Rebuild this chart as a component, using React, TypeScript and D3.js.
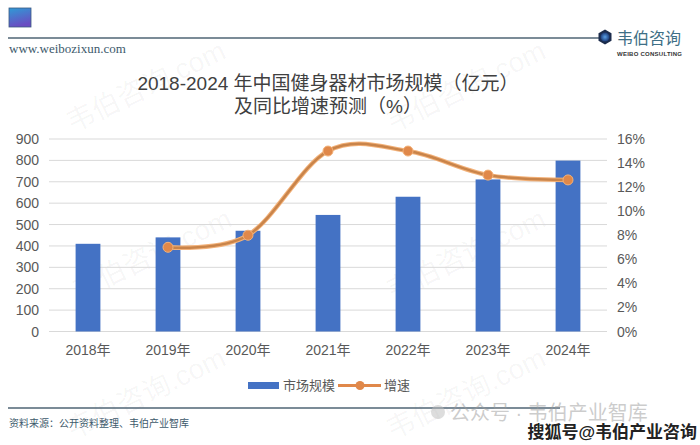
import * as d3 from "d3";
import {useEffect, useRef} from "react";

// 市场规模（亿元）与同比增速
const years = ["2018年", "2019年", "2020年", "2021年", "2022年", "2023年", "2024年"];
const marketSize = [410, 440, 471, 545, 630, 711, 799];
const growthYears = ["2019年", "2020年", "2021年", "2022年", "2023年", "2024年"];
const growthRate = [0.07, 0.08, 0.15, 0.15, 0.13, 0.126];
const leftTicks = [0, 100, 200, 300, 400, 500, 600, 700, 800, 900];
const rightTicks = [0, 0.02, 0.04, 0.06, 0.08, 0.1, 0.12, 0.14, 0.16];

const sans = "'Liberation Sans', 'Noto Sans CJK SC', sans-serif";
const serif = "'Liberation Serif', 'Noto Sans CJK SC', serif";

export default function App() {
    const svgRef = useRef(null);
    const width = 700;
    const height = 445;

    useEffect(() => {
        if (!svgRef.current) return;
        d3.select(svgRef.current).selectAll("*").remove();
        const svg = d3.select(svgRef.current);

        const x = d3.scaleBand().domain(years).range([48, 608]);
        const yLeft = d3.scaleLinear().domain([0, 900]).range([331.5, 139]);
        const yRight = d3.scaleLinear().domain([0, 0.16]).range([331.5, 139]);
        const barW = x.bandwidth() * 0.31;
        const cx = (d: string) => (x(d) as number) + x.bandwidth() / 2;

        const defs = svg.append("defs");
        const grad = defs.append("linearGradient").attr("id", "sq").attr("x1", 0).attr("y1", 0).attr("x2", 0.3).attr("y2", 1);
        grad.append("stop").attr("offset", "0%").attr("stop-color", "#2f9bd6");
        grad.append("stop").attr("offset", "100%").attr("stop-color", "#6a4cc2");
        const lg = defs.append("radialGradient").attr("id", "logo");
        lg.append("stop").attr("offset", "0%").attr("stop-color", "#5aa0e6");
        lg.append("stop").attr("offset", "100%").attr("stop-color", "#1d3d7a");

        // watermarks (behind everything)
        const marks = [[150, 95], [470, 95], [156, 263], [470, 263], [150, 402], [470, 402]];
        svg.append("g").selectAll("text").data(marks).join("text")
            .attr("transform", d => `translate(${d[0]},${d[1]}) rotate(-26)`)
            .attr("text-anchor", "middle").attr("font-family", sans).attr("font-size", 28)
            .attr("fill", "#000").attr("fill-opacity", 0.045)
            .text("韦伯咨询.com");

        // header
        svg.append("rect").attr("x", 9).attr("y", 8).attr("width", 22).attr("height", 19)
            .attr("fill", "url(#sq)").attr("stroke", "#3a5a80").attr("stroke-width", 0.8);
        svg.append("line").attr("x1", 8).attr("x2", 600).attr("y1", 38).attr("y2", 38)
            .attr("stroke", "#4f6474").attr("stroke-width", 1.5);
        const hex = d3.range(6).map(i => {
            const a = Math.PI / 3 * i + Math.PI / 6;
            return [605 + 7.5 * Math.cos(a), 37 + 7.5 * Math.sin(a)];
        });
        svg.append("polygon").attr("points", hex.map(p => p.join(",")).join(" ")).attr("fill", "#1c2c4c");
        svg.append("circle").attr("cx", 605).attr("cy", 37).attr("r", 4.5).attr("fill", "url(#logo)");
        svg.append("text").attr("x", 617).attr("y", 44).text("韦伯咨询")
            .attr("font-family", serif).attr("font-size", 16).attr("fill", "#3e6f86").attr("textLength", 64);
        svg.append("text").attr("x", 617).attr("y", 56).text("WEIBO CONSULTING")
            .attr("font-family", sans).attr("font-size", 6).attr("font-weight", "bold").attr("fill", "#333")
            .attr("textLength", 65);
        svg.append("text").attr("x", 9).attr("y", 53).text("www.weibozixun.com")
            .attr("font-family", serif).attr("font-size", 13).attr("fill", "#3d5a6c");

        // title
        const title = svg.append("g").attr("font-family", sans).attr("font-size", 19)
            .attr("fill", "#404040").attr("text-anchor", "middle");
        title.append("text").attr("x", 328).attr("y", 90).text("2018-2024 年中国健身器材市场规模（亿元）");
        title.append("text").attr("x", 328).attr("y", 113).text("及同比增速预测（%）");

        // gridlines
        svg.append("g").selectAll("line").data(leftTicks).join("line")
            .attr("x1", 49).attr("x2", 607)
            .attr("y1", d => yLeft(d)).attr("y2", d => yLeft(d))
            .attr("stroke", "#d9d9d9").attr("stroke-width", 1);

        // axis labels
        svg.append("g").selectAll("text").data(leftTicks).join("text")
            .attr("x", 39).attr("y", d => yLeft(d) + 5)
            .attr("text-anchor", "end").attr("font-family", sans).attr("font-size", 14).attr("fill", "#595959")
            .text(d => d);
        svg.append("g").selectAll("text").data(rightTicks).join("text")
            .attr("x", 617).attr("y", d => yRight(d) + 5)
            .attr("font-family", sans).attr("font-size", 14).attr("fill", "#595959")
            .text(d => d3.format(".0%")(d));
        svg.append("g").selectAll("text").data(years).join("text")
            .attr("x", d => cx(d)).attr("y", 355)
            .attr("text-anchor", "middle").attr("font-family", sans).attr("font-size", 14).attr("fill", "#595959")
            .text(d => d);

        // bars
        svg.append("g").selectAll("rect").data(marketSize).join("rect")
            .attr("x", (d, i) => cx(years[i]) - barW / 2)
            .attr("y", d => yLeft(d))
            .attr("width", barW)
            .attr("height", d => yLeft(0) - yLeft(d))
            .attr("fill", "#4472c4");

        // growth line
        const pts: [number, number][] = growthRate.map((d, i) => [cx(growthYears[i]), yRight(d)]);
        const line = d3.line().curve(d3.curveCardinal.tension(0));
        svg.append("path").attr("d", line(pts)).attr("fill", "none")
            .attr("stroke", "#f3b27a").attr("stroke-width", 4.5).attr("stroke-linecap", "round");
        svg.append("path").attr("d", line(pts)).attr("fill", "none")
            .attr("stroke", "#c9844a").attr("stroke-width", 2.5).attr("stroke-linecap", "round");
        svg.append("g").selectAll("circle").data(pts).join("circle")
            .attr("cx", d => d[0]).attr("cy", d => d[1]).attr("r", 5)
            .attr("fill", "#e0884a").attr("stroke", "#f3b27a").attr("stroke-width", 1);

        // legend
        const leg = svg.append("g").attr("font-family", sans).attr("font-size", 13).attr("fill", "#595959");
        leg.append("rect").attr("x", 248).attr("y", 382).attr("width", 31).attr("height", 7).attr("fill", "#4472c4");
        leg.append("text").attr("x", 283).attr("y", 390).text("市场规模");
        leg.append("line").attr("x1", 338).attr("x2", 381).attr("y1", 385.5).attr("y2", 385.5)
            .attr("stroke", "#e0884a").attr("stroke-width", 3);
        leg.append("circle").attr("cx", 360).attr("cy", 385.5).attr("r", 4.5).attr("fill", "#e0884a");
        leg.append("text").attr("x", 384).attr("y", 390).text("增速");

        // footer
        svg.append("line").attr("x1", 8).attr("x2", 560).attr("y1", 408).attr("y2", 408)
            .attr("stroke", "#4f6474").attr("stroke-width", 1.5);
        svg.append("text").attr("x", 9).attr("y", 427).text("资料来源：公开资料整理、韦伯产业智库")
            .attr("font-family", serif).attr("font-size", 10).attr("fill", "#3d5a6c");

        // bottom-right stamps
        svg.append("circle").attr("cx", 438).attr("cy", 412).attr("r", 7).attr("fill", "#bbb").attr("fill-opacity", 0.5);
        svg.append("text").attr("x", 450).attr("y", 420).text("公众号 · 韦伯产业智库")
            .attr("font-family", sans).attr("font-size", 20).attr("fill", "#999").attr("fill-opacity", 0.5);
        svg.append("text").attr("x", 697).attr("y", 438).attr("text-anchor", "end").text("搜狐号@韦伯产业咨询")
            .attr("font-family", sans).attr("font-size", 17).attr("font-weight", "bold")
            .attr("fill", "#222").attr("stroke", "#fff").attr("stroke-width", 2).attr("paint-order", "stroke");
    }, []);

    return (
        <svg ref={svgRef} width={width} height={height}
             style={{position: "absolute", left: 0, top: 0, background: "#fff"}}></svg>
    );
}
